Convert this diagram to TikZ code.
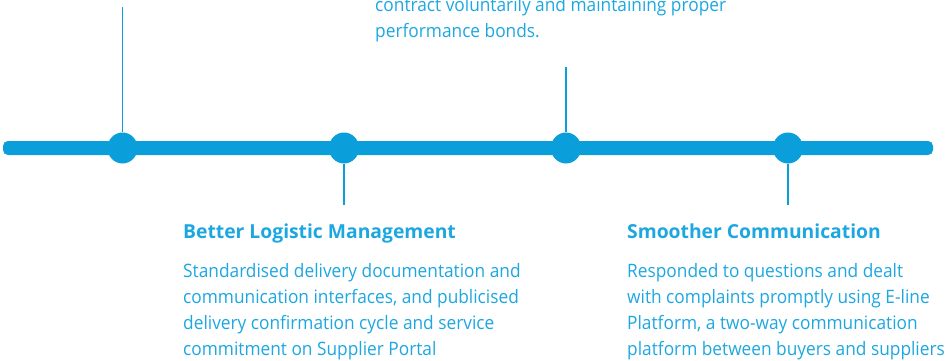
\documentclass[tikz,border=0pt]{standalone}
\usepackage{fontspec}
\setmainfont{Open Sans}
\newfontfamily\bodyfont[FakeStretch=0.935]{Open Sans}
\usetikzlibrary{shapes.geometric}
\definecolor{tl}{HTML}{0A9FDB}
\definecolor{tx}{HTML}{1DA7E0}
\begin{document}
\begin{tikzpicture}[x=1pt,y=-1pt,
  dot/.style={ellipse, fill=tl, minimum width=30pt, minimum height=31pt, inner sep=0pt},
  stem/.style={draw=tl, line width=1.5pt},
  head/.style={anchor=base west, inner sep=0pt, text=tx, font=\bfseries\fontsize{19.3}{24}\selectfont},
  body/.style={anchor=north west, inner sep=0pt, text=tx, align=left, font=\bodyfont\fontsize{18.5}{26}\selectfont}]
\useasboundingbox (0,0) rectangle (945,361);
\coordinate (L) at (3,141);
\coordinate (R) at (933,155);
\fill[tl, rounded corners=5pt] (L) rectangle (R);
\node[dot] (d1) at (122.5,148) {};
\node[dot] (d2) at (344,148) {};
\node[dot] (d3) at (566,148) {};
\node[dot] (d4) at (788,148) {};
\coordinate (s1) at (122.5,7);
\coordinate (s2) at (344,205);
\coordinate (s3) at (566,67);
\coordinate (s4) at (788,205);
\draw[stem] (d1.north) -- (s1);
\draw[stem] (d2.south) -- (s2);
\draw[stem] (d3.north) -- (s3);
\draw[stem] (d4.south) -- (s4);
\node[body] (t3) at (375,-3) {contract voluntarily and maintaining proper\\performance bonds.};
\node[head] (h2) at (183,238) {Better Logistic Management};
\node[body] (b2) at (183,263.5) {Standardised delivery documentation and\\communication interfaces, and publicised\\delivery confirmation cycle and service\\commitment on Supplier Portal};
\node[head] (h4) at (627,238) {Smoother Communication};
\node[body] (b4) at (627,263.5) {Responded to questions and dealt\\with complaints promptly using E-line\\Platform, a two-way communication\\platform between buyers and suppliers};
\end{tikzpicture}
\end{document}
